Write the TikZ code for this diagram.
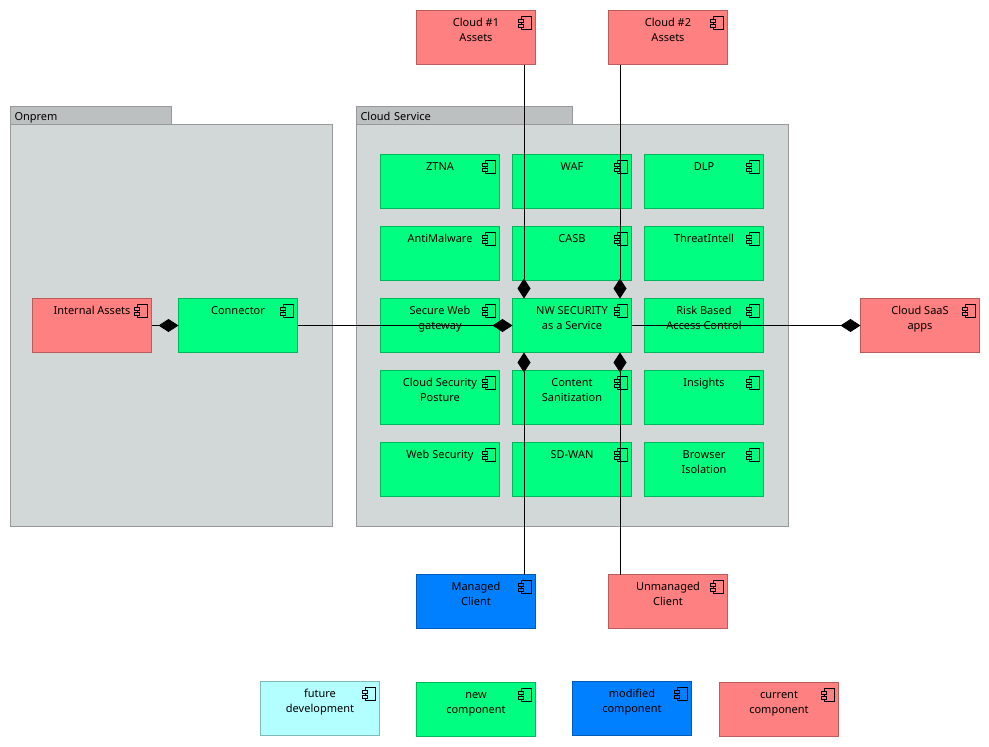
\documentclass[tikz,border=0pt]{standalone}
\usepackage{fontspec}
\setmainfont{Noto Sans}
\usetikzlibrary{arrows.meta}
\definecolor{cgreen}{HTML}{00FF80}
\definecolor{cred}{HTML}{FF8080}
\definecolor{cblue}{HTML}{0080FF}
\definecolor{ccyan}{HTML}{B3FFFF}
\definecolor{pkgfill}{HTML}{D2D8D8}
\definecolor{pkgtab}{HTML}{BCC0C0}
\definecolor{pkgline}{HTML}{999999}
\tikzset{
  compbox/.style={fill=#1, draw=#1!72!black, line width=1pt, inner sep=0pt, outer sep=0pt, anchor=north west},
  compicon/.style={draw=black, line width=0.8pt},
  pkgbody/.style={fill=pkgfill, draw=pkgline, line width=1pt, inner sep=0pt, outer sep=0pt, anchor=north west},
  pkgtabbox/.style={fill=pkgtab, draw=pkgline, line width=1pt, inner sep=0pt, outer sep=0pt, anchor=north west, minimum height=18pt, text height=10.5pt, text depth=1.5pt, font=\fontsize{11}{13}\selectfont},
  link/.style={draw=black, line width=0.9pt, -{Diamond[length=20pt,width=13pt]}},
}
\newcommand{\comp}[5]{%
  \node[compbox=#2] (#1) at (#3+0.5,#4+0.5) {\parbox[t][54pt][t]{119pt}{\centering\fontsize{11}{15}\selectfont\rule{0pt}{15.5pt}#5}};
  \draw[compicon] ([shift={(105,6)}]#1.north west) rectangle ([shift={(115,19)}]#1.north west);
  \draw[compicon, fill=#2] ([shift={(102,9)}]#1.north west) rectangle ([shift={(107,12)}]#1.north west);
  \draw[compicon, fill=#2] ([shift={(102,14)}]#1.north west) rectangle ([shift={(107,17)}]#1.north west);
}
\begin{document}
\begin{tikzpicture}[x=1pt,y=-1pt]
\useasboundingbox (0,0) rectangle (989,747);
% packages
\node[pkgtabbox, minimum width=161pt, text width=153pt, inner xsep=4pt, align=left] (onpremtab) at (10.5,106.5) {Onprem};
\node[pkgbody, minimum width=322pt, minimum height=402pt] (onprem) at (10.5,124.5) {};
\node[pkgtabbox, minimum width=216pt, text width=208pt, inner xsep=4pt, align=left] (cloudtab) at (356.5,106.5) {Cloud Service};
\node[pkgbody, minimum width=432pt, minimum height=402pt] (cloudsvc) at (356.5,124.5) {};
% top and side components
\comp{cloudone}{cred}{416}{10}{Cloud \#1\\Assets}
\comp{cloudtwo}{cred}{608}{10}{Cloud \#2\\Assets}
\comp{internal}{cred}{32}{298}{Internal Assets}
\comp{connector}{cgreen}{178}{298}{Connector}
\comp{saas}{cred}{860}{298}{Cloud SaaS\\apps}
% grid
\comp{ztna}{cgreen}{380}{154}{ZTNA}
\comp{waf}{cgreen}{512}{154}{WAF}
\comp{dlp}{cgreen}{644}{154}{DLP}
\comp{antimalware}{cgreen}{380}{226}{AntiMalware}
\comp{casb}{cgreen}{512}{226}{CASB}
\comp{threat}{cgreen}{644}{226}{ThreatIntell}
\comp{swg}{cgreen}{380}{298}{Secure Web\\gateway}
\comp{nwsec}{cgreen}{512}{298}{NW SECURITY\\as a Service}
\comp{risk}{cgreen}{644}{298}{Risk Based\\Access Control}
\comp{posture}{cgreen}{380}{370}{Cloud Security\\Posture}
\comp{content}{cgreen}{512}{370}{Content\\Sanitization}
\comp{insights}{cgreen}{644}{370}{Insights}
\comp{websec}{cgreen}{380}{442}{Web Security}
\comp{sdwan}{cgreen}{512}{442}{SD-WAN}
\comp{browser}{cgreen}{644}{442}{Browser\\Isolation}
% clients
\comp{managed}{cblue}{416}{574}{Managed\\Client}
\comp{unmanaged}{cred}{608}{574}{Unmanaged\\Client}
% legend
\comp{legfuture}{ccyan}{260}{681}{future\\development}
\comp{legnew}{cgreen}{416}{682}{new\\component}
\comp{legmod}{cblue}{572}{681}{modified\\component}
\comp{legcur}{cred}{719}{682}{current\\component}
% connectors
\path[link] (internal.east) -- (connector.west);
\path[link] (connector.east) -- (nwsec.west);
\path[link] (nwsec.east) -- (saas.west);
\path[link] ([xshift=48pt]cloudone.south) -- ([xshift=-48pt]nwsec.north);
\path[link] ([xshift=-48pt]cloudtwo.south) -- ([xshift=48pt]nwsec.north);
\path[link] ([xshift=48pt]managed.north) -- ([xshift=-48pt]nwsec.south);
\path[link] ([xshift=-48pt]unmanaged.north) -- ([xshift=48pt]nwsec.south);
\end{tikzpicture}
\end{document}
